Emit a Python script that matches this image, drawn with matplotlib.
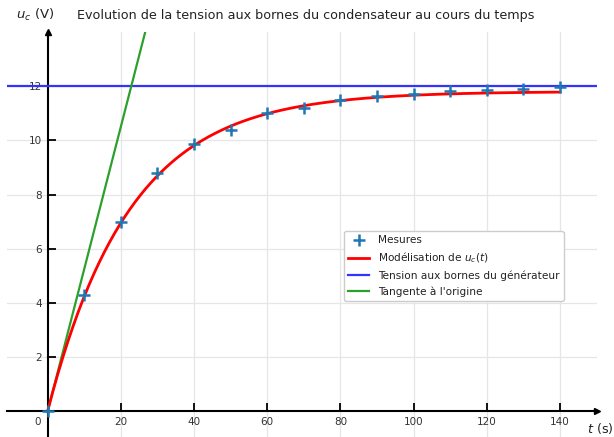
import numpy as np
import matplotlib
matplotlib.use("Agg")
import matplotlib.pyplot as plt

# Data
t_mes = [0, 10, 20, 30, 40, 50, 60, 70, 80, 90, 100, 110, 120, 130, 140]
u_mes = [0, 4.3, 7.0, 8.8, 9.85, 10.38, 11.0, 11.19, 11.48, 11.62, 11.7, 11.8, 11.85, 11.89, 11.95]
E_model = 11.8      # asymptote of the model (V)
tau_model = 22.5    # time constant of the model (s)
E_gen = 12.0        # generator voltage (V)
x_ticks = [20, 40, 60, 80, 100, 120, 140]
y_ticks = [2, 4, 6, 8, 10, 12]

W, H = 614, 437
fig = plt.figure(figsize=(W / 100, H / 100), dpi=100)
x0, x1 = 7.3, 596.6
ytop, ybot = 31.8, 438.6
ax = fig.add_axes([x0 / W, (H - ybot) / H, (x1 - x0) / W, (ybot - ytop) / H])
ax.set_xlim(-11, 150)
ax.set_ylim(-1, 14)

ax.grid(True, color="#e6e6e6", linewidth=0.9, zorder=0)
ax.set_xticks(x_ticks)
ax.set_yticks(y_ticks)

for s in ["top", "right"]:
    ax.spines[s].set_visible(False)
ax.spines["left"].set_position(("data", 0))
ax.spines["bottom"].set_position(("data", 0))
for s in ["left", "bottom"]:
    ax.spines[s].set_linewidth(1.5)
    ax.spines[s].set_color("black")
ax.tick_params(direction="in", length=6, width=1.3, labelsize=7.5,
               colors="black", labelcolor="#333333", pad=4)

ax.plot(1, 0, ">k", markersize=5, transform=ax.get_yaxis_transform(), clip_on=False)
ax.plot(0, 1, "^k", markersize=5, transform=ax.get_xaxis_transform(), clip_on=False)

t_fit = np.linspace(0, 140, 300)
u_fit = E_model * (1 - np.exp(-t_fit / tau_model))
t_tan = np.array([0, 40])

ax.plot(t_mes, u_mes, "+", color="#1f77b4", markersize=9, markeredgewidth=1.8,
        label="Mesures", zorder=5)
ax.plot(t_fit, u_fit, color="red", linewidth=2, label=r"Modélisation de $u_c(t)$", zorder=4)
ax.axhline(E_gen, color="#3333ff", linewidth=1.6, label="Tension aux bornes du générateur", zorder=3)
ax.plot(t_tan, E_model / tau_model * t_tan, color="#2ca02c", linewidth=1.6,
        label="Tangente à l'origine", zorder=3)

leg = ax.legend(loc="upper left", bbox_to_anchor=(344 / W, 1 - 231 / H),
                bbox_transform=fig.transFigure, borderaxespad=0, fontsize=7.6,
                framealpha=1, edgecolor="#cccccc", fancybox=True)
for txt in leg.get_texts():
    txt.set_color("#222222")

ax.text(-2.6, -0.39, "0", ha="center", va="center", fontsize=7.5, color="#333333")
fig.text(306 / W, 1 - 16 / H, "Evolution de la tension aux bornes du condensateur au cours du temps",
         ha="center", va="center", fontsize=9.2, color="#222222")
fig.text(35 / W, 1 - 15 / H, r"$u_c$ (V)", ha="center", va="center", fontsize=9.5, color="#222222")
fig.text(613 / W, 1 - 429 / H, r"$t$ (s)", ha="right", va="center", fontsize=9.2, color="#222222")

fig.savefig("out.png", dpi=100)
